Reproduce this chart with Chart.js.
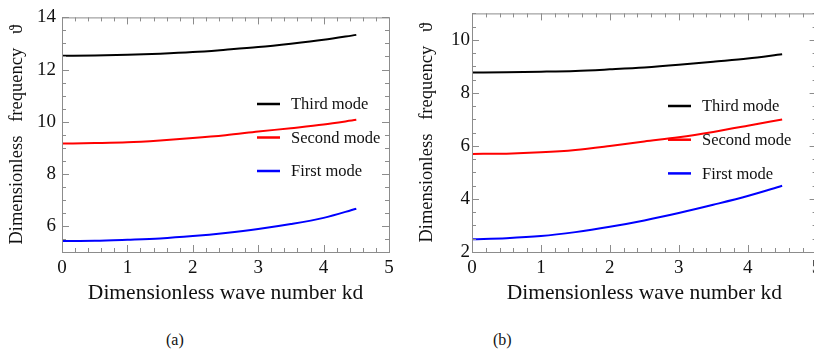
<!DOCTYPE html>
<html>
<head>
<meta charset="utf-8">
<script src="https://cdn.jsdelivr.net/npm/chart.js@4.4.0/dist/chart.umd.min.js"></script>
<style>
  html, body { margin: 0; padding: 0; background: #fff; overflow: hidden; }
  body { width: 814px; height: 354px; position: relative; }
  .box { position: absolute; top: 0; width: 410px; height: 320px; }
  #boxA { left: 0; }
  #boxB { left: 410px; }
  .cap { position: absolute; top: 330px; font: 16px "Liberation Serif", serif; color: #111; line-height: 20px; }
</style>
</head>
<body>
<div class="box" id="boxA"><canvas id="chartA" width="410" height="320"></canvas></div>
<div class="box" id="boxB"><canvas id="chartB" width="410" height="320"></canvas></div>
<div class="cap" style="left:166px">(a)</div>
<div class="cap" style="left:493px">(b)</div>
<script>
"use strict"

// data

const kd = [0, 0.5, 1, 1.5, 2, 2.5, 3, 3.5, 4, 4.5]

// panel (a)
const thirdA = [12.53, 12.54, 12.57, 12.61, 12.67, 12.76, 12.86, 12.99, 13.14, 13.33]
const secondA = [9.16, 9.18, 9.21, 9.28, 9.37, 9.48, 9.62, 9.75, 9.89, 10.07]
const firstA = [5.42, 5.43, 5.47, 5.52, 5.61, 5.73, 5.88, 6.07, 6.31, 6.66]

// panel (b)
const thirdB = [8.77, 8.78, 8.80, 8.83, 8.89, 8.96, 9.06, 9.18, 9.30, 9.46]
const secondB = [5.70, 5.71, 5.76, 5.85, 6.00, 6.17, 6.33, 6.53, 6.76, 7.00]
const firstB = [2.48, 2.52, 2.60, 2.75, 2.95, 3.19, 3.47, 3.78, 4.11, 4.50]

const modeLabels = ["Third mode", "Second mode", "First mode"]
const modeColors = ["#000000", "#ff0000", "#0000ff"]

const xTicks = [0, 1, 2, 3, 4, 5]
const yTicksA = [6, 8, 10, 12, 14]
const yTicksB = [2, 4, 6, 8, 10]

const xTitle = "Dimensionless wave number kd"
const yTitle = "Dimensionless\u2002 frequency\u2002 \u03d1"

const serif = "'Liberation Serif', 'Times New Roman', serif"

function pts(ys) {
  return ys.map((v, i) => ({ x: kd[i], y: v }))
}

// frame with inward ticks on all four sides
const frameTicks = {
  id: "frameTicks",
  afterDatasetsDraw(chart, args, opts) {
    const { ctx, chartArea: a, scales } = chart
    const sx = scales.x
    const sy = scales.y
    ctx.save()
    ctx.strokeStyle = "#8c8c8c"
    ctx.lineWidth = 1
    ctx.strokeRect(a.left + 0.5, a.top + 0.5, a.right - a.left, a.bottom - a.top)
    ctx.beginPath()
    for (let v = sx.min; v <= sx.max + 1e-9; v += opts.xMinor) {
      const px = Math.round(sx.getPixelForValue(v)) + 0.5
      const len = Math.abs(v - Math.round(v)) < 1e-6 ? 7 : 4
      ctx.moveTo(px, a.bottom)
      ctx.lineTo(px, a.bottom - len)
      ctx.moveTo(px, a.top)
      ctx.lineTo(px, a.top + len)
    }
    for (let v = sy.min; v <= sy.max + 1e-9; v += opts.yMinor) {
      const py = Math.round(sy.getPixelForValue(v)) + 0.5
      const len = opts.yMajor.includes(Math.round(v * 100) / 100) ? 7 : 4
      ctx.moveTo(a.left, py)
      ctx.lineTo(a.left + len, py)
      ctx.moveTo(a.right, py)
      ctx.lineTo(a.right - len, py)
    }
    ctx.stroke()
    ctx.restore()
  },
}

// legend drawn inside the plot
const innerLegend = {
  id: "innerLegend",
  afterDraw(chart, args, opts) {
    const { ctx } = chart
    ctx.save()
    ctx.font = "16.5px " + serif
    ctx.textBaseline = "middle"
    ctx.textAlign = "left"
    chart.data.datasets.forEach((ds, i) => {
      const y = opts.y + i * opts.gap
      ctx.strokeStyle = ds.borderColor
      ctx.lineWidth = 2.5
      ctx.beginPath()
      ctx.moveTo(opts.x, y)
      ctx.lineTo(opts.x + 23, y)
      ctx.stroke()
      ctx.fillStyle = "#111"
      ctx.fillText(ds.label, opts.x + 34, y + 1)
    })
    ctx.restore()
  },
}

function makeChart(canvas, series, yMin, yMax, yTicks, cfg) {
  return new Chart(canvas, {
    type: "line",
    data: {
      datasets: series.map((s, i) => ({
        label: modeLabels[i],
        data: pts(s),
        borderColor: modeColors[i],
        borderWidth: 2,
        pointRadius: 0,
        cubicInterpolationMode: "monotone",
        fill: false,
      })),
    },
    options: {
      responsive: false,
      animation: false,
      events: [],
      layout: { padding: { top: cfg.top, right: cfg.right, left: 0, bottom: 0 } },
      scales: {
        x: {
          type: "linear",
          min: 0,
          max: 5,
          afterBuildTicks: (s) => { s.ticks = xTicks.map((v) => ({ value: v })) },
          afterFit: (s) => {
            s.height = 68
            s.paddingLeft = 0
            s.paddingRight = 0
          },
          grid: { display: false, drawTicks: false },
          border: { display: false },
          ticks: { padding: 5, color: "#111", font: { family: serif, size: 19 } },
          title: {
            display: true,
            text: xTitle,
            color: "#111",
            font: { family: serif, size: 21.5 },
            padding: { top: 0, bottom: 14 },
          },
        },
        y: {
          min: yMin,
          max: yMax,
          afterBuildTicks: (s) => { s.ticks = yTicks.map((v) => ({ value: v })) },
          afterFit: (s) => { s.width = 62 },
          grid: { display: false, drawTicks: false },
          border: { display: false },
          ticks: { padding: cfg.yPad, color: "#111", font: { family: serif, size: 19 } },
          title: {
            display: true,
            text: yTitle,
            color: "#111",
            font: { family: serif, size: 18.5 },
            padding: { top: 6, bottom: 0 },
          },
        },
      },
      plugins: {
        legend: { display: false },
        tooltip: { enabled: false },
        frameTicks: { xMinor: 0.2, yMinor: 0.5, yMajor: yTicks },
        innerLegend: { x: cfg.legX, y: cfg.legY, gap: cfg.legGap },
      },
    },
    plugins: [frameTicks, innerLegend],
  })
}

const chartA = makeChart(
  document.getElementById("chartA"),
  [thirdA, secondA, firstA],
  5, 14, yTicksA,
  { top: 14, right: 21, yPad: 6, legX: 257, legY: 104, legGap: 33.5 }
)

const chartB = makeChart(
  document.getElementById("chartB"),
  [thirdB, secondB, firstB],
  2, 11, yTicksB,
  { top: 4, right: 3.4, yPad: 2, legX: 258, legY: 106, legGap: 33.7 }
)
</script>
</body>
</html>
